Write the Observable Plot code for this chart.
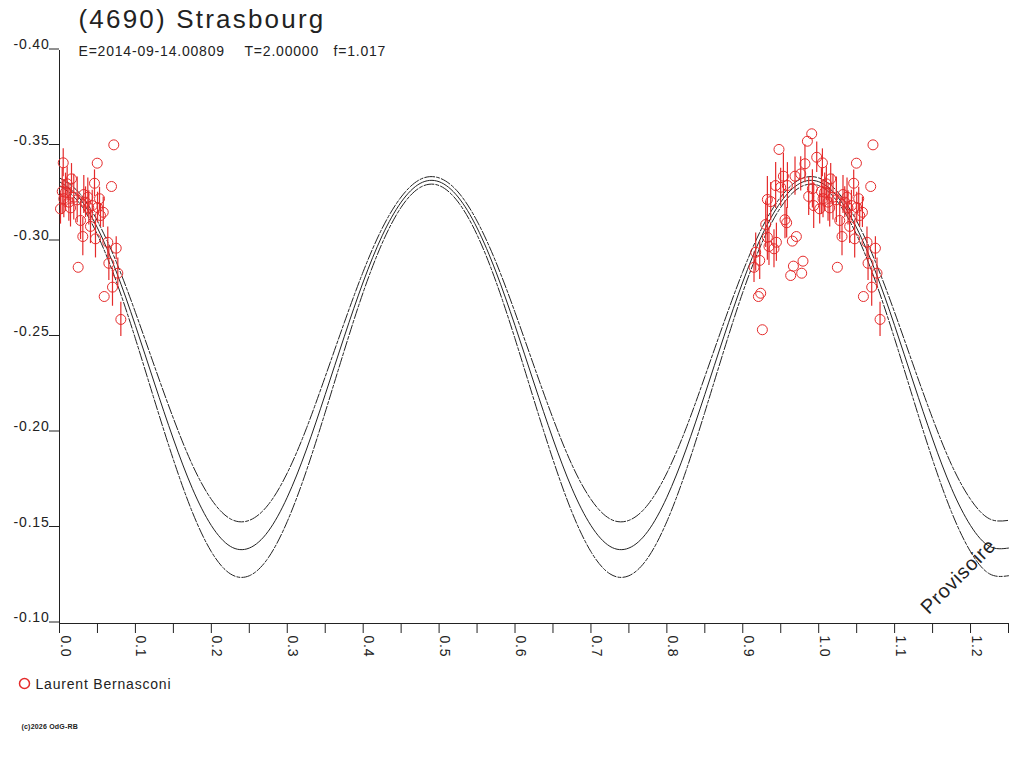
<!DOCTYPE html>
<html><head><meta charset="utf-8">
<script src="https://cdn.jsdelivr.net/npm/d3@7"></script>
<script src="https://cdn.jsdelivr.net/npm/@observablehq/plot@0.6"></script>
<style>body{margin:0;background:#fff}</style>
</head><body><div id="chart"></div>
<script>
const titleText = "(4690) Strasbourg";
const subtitleParts = ["E=2014-09-14.00809", "T=2.00000", "f=1.017"];
const observer = "Laurent Bernasconi";
const copyrightText = "(c)2026 OdG-RB";
const watermark = "Provisoire";

const xTickValues = [0, 0.1, 0.2, 0.3, 0.4, 0.5, 0.6, 0.7, 0.8, 0.9, 1.0, 1.1, 1.2];
const xTickLabels = ["0.0","0.1","0.2","0.3","0.4","0.5","0.6","0.7","0.8","0.9","1.0","1.1","1.2"];
const xMinorTicks = [0.05, 0.15, 0.25, 0.35, 0.45, 0.55, 0.65, 0.75, 0.85, 0.95, 1.05, 1.15, 1.25];
const yTickValues = [-0.40, -0.35, -0.30, -0.25, -0.20, -0.15, -0.10];
const yTickLabels = ["-0.40","-0.35","-0.30","-0.25","-0.20","-0.15","-0.10"];

const fitPhase = [0, 0.025, 0.05, 0.075, 0.1, 0.125, 0.15, 0.175, 0.2, 0.225,
  0.25, 0.275, 0.3, 0.325, 0.35, 0.375, 0.4, 0.425, 0.45, 0.475,
  0.5, 0.525, 0.55, 0.575, 0.6, 0.625, 0.65, 0.675, 0.7, 0.725,
  0.75, 0.775, 0.8, 0.825, 0.85, 0.875, 0.9, 0.925, 0.95, 0.975,
  1.0, 1.025, 1.05, 1.075, 1.1, 1.125, 1.15, 1.175, 1.2, 1.225, 1.25];
const fitMid = [-0.3313, -0.3233, -0.3071, -0.2840, -0.2560, -0.2259, -0.1966, -0.1707, -0.1513, -0.1404,
  -0.1395, -0.1483, -0.1661, -0.1908, -0.2199, -0.2501, -0.2788, -0.3030, -0.3206, -0.3304,
  -0.3313, -0.3233, -0.3071, -0.2840, -0.2560, -0.2259, -0.1966, -0.1707, -0.1513, -0.1404,
  -0.1395, -0.1483, -0.1661, -0.1908, -0.2199, -0.2501, -0.2788, -0.3030, -0.3206, -0.3304,
  -0.3313, -0.3233, -0.3071, -0.2840, -0.2560, -0.2259, -0.1966, -0.1707, -0.1513, -0.1404, -0.1395];
const fitUpper = [-0.3333, -0.3259, -0.3107, -0.2891, -0.2629, -0.2348, -0.2074, -0.1831, -0.1650, -0.1548,
  -0.1540, -0.1622, -0.1788, -0.2019, -0.2292, -0.2574, -0.2842, -0.3069, -0.3233, -0.3325,
  -0.3333, -0.3259, -0.3107, -0.2891, -0.2629, -0.2348, -0.2074, -0.1831, -0.1650, -0.1548,
  -0.1540, -0.1622, -0.1788, -0.2019, -0.2292, -0.2574, -0.2842, -0.3069, -0.3233, -0.3325,
  -0.3333, -0.3259, -0.3107, -0.2891, -0.2629, -0.2348, -0.2074, -0.1831, -0.1650, -0.1548, -0.1540];
const fitLower = [-0.3293, -0.3207, -0.3035, -0.2789, -0.2491, -0.2170, -0.1858, -0.1583, -0.1376, -0.1260,
  -0.1250, -0.1344, -0.1534, -0.1797, -0.2106, -0.2428, -0.2734, -0.2991, -0.3179, -0.3283,
  -0.3293, -0.3207, -0.3035, -0.2789, -0.2491, -0.2170, -0.1858, -0.1583, -0.1376, -0.1260,
  -0.1250, -0.1344, -0.1534, -0.1797, -0.2106, -0.2428, -0.2734, -0.2991, -0.3179, -0.3283,
  -0.3293, -0.3207, -0.3035, -0.2789, -0.2491, -0.2170, -0.1858, -0.1583, -0.1376, -0.1260, -0.1250];

const obsPhase = [0.0049, 0.0715, 0.0497, 0.0158, 0.0101, 0.0036, 0.0013, 0.0123, 0.0145, 0.0233,
  0.0320, 0.0373, 0.0461, 0.0685, 0.0527, 0.0431, 0.0576, 0.0540, 0.0277, 0.0408,
  0.0307, 0.0474, 0.0636, 0.0747, 0.0650, 0.0768, 0.0246, 0.0698, 0.0589, 0.0808,
  0.0079, 0.0188, 0.0057, 0.0343, 0.0386, 0.0501,
  0.9908, 0.9851, 0.9477, 0.9974, 0.9819, 0.9535, 0.9688, 0.9763, 0.9433, 0.9588,
  0.9499, 0.9917, 0.9324, 0.9368, 0.9302, 0.9556, 0.9578, 0.9706, 0.9653, 0.9324,
  0.9443, 0.9411, 0.9345, 0.9170, 0.9223, 0.9148, 0.9793, 0.9667, 0.9631, 0.9776,
  0.9236, 0.9206, 0.9258, 0.9868, 0.9934];
const obsMag = [-0.3412, -0.3506, -0.3410, -0.3328, -0.3302, -0.3262, -0.3171, -0.3206, -0.3176, -0.3218,
  -0.3246, -0.3232, -0.3305, -0.3288, -0.3224, -0.3188, -0.3153, -0.3136, -0.3110, -0.3079,
  -0.3026, -0.3014, -0.2996, -0.2965, -0.2886, -0.2834, -0.2865, -0.2761, -0.2712, -0.2592,
  -0.3258, -0.3232, -0.3224, -0.3206, -0.3176, -0.3178,
  -0.3564, -0.3525, -0.3482, -0.3441, -0.3407, -0.3342, -0.3342, -0.3354, -0.3293, -0.3293,
  -0.3284, -0.3276, -0.3220, -0.3209, -0.3089, -0.3114, -0.3098, -0.3026, -0.3002, -0.3022,
  -0.2996, -0.2962, -0.2974, -0.2944, -0.2901, -0.2865, -0.2897, -0.2871, -0.2822, -0.2834,
  -0.2729, -0.2712, -0.2538, -0.3236, -0.3188];
const obsErr = [0.0073, 0, 0, 0.008, 0.009, 0.012, 0.008, 0.010, 0.010, 0.012,
  0.010, 0.010, 0.007, 0, 0.006, 0.008, 0.008, 0.006, 0.010, 0.009,
  0.010, 0.010, 0.008, 0.006, 0.009, 0.008, 0, 0.010, 0, 0.009,
  0.010, 0.012, 0.010, 0.008, 0.009, 0.008,
  0, 0, 0, 0.008, 0.010, 0.012, 0.010, 0.009, 0.012, 0.012,
  0.010, 0.010, 0.012, 0.010, 0.012, 0.010, 0.008, 0, 0, 0.012,
  0.010, 0.010, 0.010, 0.010, 0.010, 0.008, 0, 0, 0, 0,
  0, 0, 0, 0.010, 0.012];

const obs = [];
obsPhase.forEach((p, i) => {
  const row = {phase: p, mag: obsMag[i], err: obsErr[i]};
  obs.push(row);
  if (p + 1 <= 1.25) obs.push({...row, phase: p + 1});
});
const fit = fitPhase.map((p, i) => ({phase: p, mid: fitMid[i], up: fitUpper[i], lo: fitLower[i]}));
const yLabelOf = new Map(yTickValues.map((v, i) => [v, yTickLabels[i]]));

const red = "#e52b2b", ink = "#222";
const font = "'Liberation Sans', Arial, sans-serif";
const dash = "10,2,3,2";

const chart = Plot.plot({
  width: 1024, height: 768,
  marginLeft: 59, marginRight: 16, marginTop: 50, marginBottom: 145,
  style: {fontFamily: font, fontSize: "14px", letterSpacing: "0.8px", color: ink, background: "#fff"},
  x: {domain: [0, 1.25]},
  y: {domain: [-0.10, -0.40]},
  marks: [
    Plot.axisY({ticks: yTickValues, tickFormat: d => yLabelOf.get(d), tickSize: 10, tickPadding: 0,
      lineAnchor: "bottom", dy: -1.5, fontSize: 14, label: null}),
    Plot.axisX({ticks: [...xTickValues, ...xMinorTicks], tickSize: 10, tickFormat: () => "", label: null}),
    Plot.ruleX([0], {stroke: ink}),
    Plot.ruleY([-0.10], {stroke: ink}),
    Plot.text(xTickValues, {x: d => d, text: (d, i) => xTickLabels[i], frameAnchor: "bottom",
      rotate: 90, textAnchor: "start", lineAnchor: "bottom", dx: 1, dy: 12, fontSize: 14, fill: ink}),
    Plot.line(fit, {x: "phase", y: "up", stroke: ink, strokeWidth: 1, strokeDasharray: dash, curve: "natural"}),
    Plot.line(fit, {x: "phase", y: "lo", stroke: ink, strokeWidth: 1, strokeDasharray: dash, curve: "natural"}),
    Plot.line(fit, {x: "phase", y: "mid", stroke: ink, strokeWidth: 1, curve: "natural"}),
    Plot.ruleX(obs.filter(d => d.err > 0), {x: "phase", y1: d => d.mag - d.err, y2: d => d.mag + d.err,
      stroke: red, strokeWidth: 1.2}),
    Plot.dot(obs, {x: "phase", y: "mag", r: 5, stroke: red, fill: "none", strokeWidth: 1}),
    Plot.text([watermark], {frameAnchor: "bottom-right", text: d => d, rotate: -45, dx: -50, dy: -47,
      fontSize: 20, textAnchor: "middle", lineAnchor: "middle", fill: ink}),
    Plot.text([titleText], {frameAnchor: "top-left", text: d => d, dx: 19, dy: -23, fontSize: 26,
      textAnchor: "start", lineAnchor: "bottom", fill: ink}),
    Plot.text([subtitleParts[0]], {frameAnchor: "top-left", text: d => d, dx: 19, dy: 5, fontSize: 14,
      textAnchor: "start", lineAnchor: "bottom", fill: ink}),
    Plot.text([subtitleParts[1]], {frameAnchor: "top-left", text: d => d, dx: 185, dy: 5, fontSize: 14,
      textAnchor: "start", lineAnchor: "bottom", fill: ink}),
    Plot.text([subtitleParts[2]], {frameAnchor: "top-left", text: d => d, dx: 274, dy: 5, fontSize: 14,
      textAnchor: "start", lineAnchor: "bottom", fill: ink}),
    Plot.dot([observer], {frameAnchor: "bottom-left", dx: -35, dy: 60, r: 5, stroke: red, fill: "none"}),
    Plot.text([observer], {frameAnchor: "bottom-left", text: d => d, dx: -24, dy: 65, fontSize: 14,
      textAnchor: "start", lineAnchor: "bottom", fill: ink}),
    Plot.text([copyrightText], {frameAnchor: "bottom-left", text: d => d, dx: -38, dy: 105, fontSize: 7,
      fontWeight: "bold", textAnchor: "start", lineAnchor: "bottom", fill: ink})
  ]
});
d3.select(chart).selectAll("text").filter(function () { return this.textContent === titleText; })
  .style("letter-spacing", "2.2px");
d3.select(chart).selectAll("text").filter(function () { return this.textContent === copyrightText; })
  .style("letter-spacing", "0.2px");
document.getElementById("chart").append(chart);
</script>
</body></html>
